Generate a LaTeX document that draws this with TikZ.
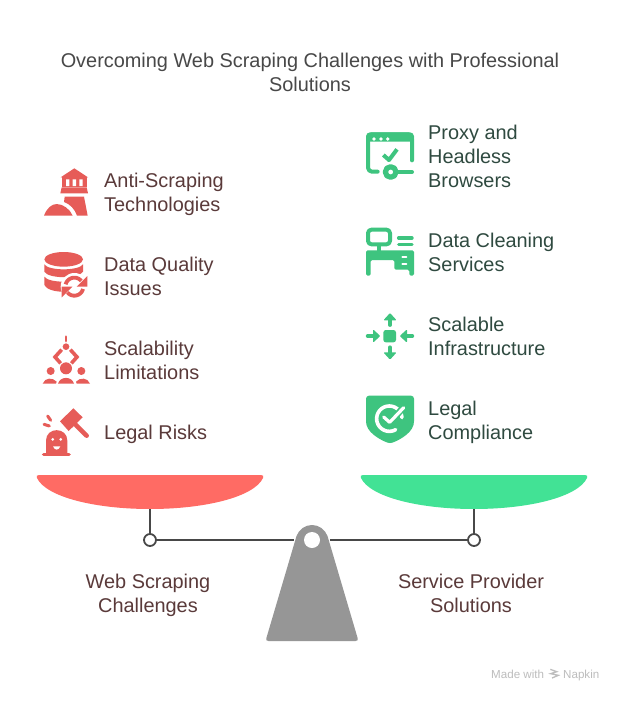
\documentclass[tikz,border=0pt]{standalone}
\usepackage{fontspec}
\setmainfont{Liberation Sans}
\definecolor{redpan}{HTML}{FF6B64}
\definecolor{greenpan}{HTML}{42E295}
\definecolor{redicon}{HTML}{E65C58}
\definecolor{greenicon}{HTML}{3EC47F}
\definecolor{lefttext}{HTML}{5A3A3A}
\definecolor{righttext}{HTML}{2F4A40}
\definecolor{titletext}{HTML}{484848}
\definecolor{beam}{HTML}{484848}
\definecolor{fulcrum}{HTML}{969696}
\definecolor{wmgray}{HTML}{BDBDBD}
\tikzset{
  struts/.style={execute at begin node=\strut,execute at end node=\strut},
  lbl/.style={font=\fontsize{19.9}{24}\selectfont,align=left,anchor=west,inner sep=0pt,struts},
  lefttxt/.style={lbl,text=lefttext},
  righttxt/.style={lbl,text=righttext},
  captxt/.style={font=\fontsize{19.9}{24}\selectfont,align=center,inner sep=0pt,text=lefttext,struts},
  pivot/.style={circle,draw=beam,fill=white,line width=1.8pt,minimum size=12pt,inner sep=0pt},
  beamline/.style={draw=beam,line width=2pt},
  riskicon/.style={shift={(#1)},scale=1/3,fill=redicon,draw=none},
  okicon/.style={shift={(#1)},scale=1/3,fill=greenicon,draw=none},
  rl/.style={draw=redicon,line width=#1,line cap=round,line join=round,fill=none},
  gl/.style={draw=greenicon,line width=#1,line cap=round,line join=round,fill=none},
  wmtxt/.style={font=\fontsize{11.6}{13}\selectfont,text=wmgray,inner sep=0pt,anchor=base west}
}
\begin{document}
\begin{tikzpicture}[x=1pt,y=-1pt]
\useasboundingbox[fill=white] (0,0) rectangle (624,701);
% title
\node[font=\fontsize{19.9}{24}\selectfont,align=center,text=titletext,inner sep=0pt,struts] (title) at (310,76.2)
  {Overcoming Web Scraping Challenges with Professional\\Solutions};
% labels
\node[lefttxt] (l1) at (104,196.2) {Anti-Scraping\\Technologies};
\node[lefttxt] (l2) at (104,280.2) {Data Quality\\Issues};
\node[lefttxt] (l3) at (104,364.2) {Scalability\\Limitations};
\node[lefttxt] (l4) at (104,434.2) {Legal Risks};
\node[righttxt] (r1) at (428,160.2) {Proxy and\\Headless\\Browsers};
\node[righttxt] (r2) at (428,256.2) {Data Cleaning\\Services};
\node[righttxt] (r3) at (428,340.2) {Scalable\\Infrastructure};
\node[righttxt] (r4) at (428,424.2) {Legal\\Compliance};
\node[captxt] (capl) at (148,597.2) {Web Scraping\\Challenges};
\node[captxt] (capr) at (471,597.2) {Service Provider\\Solutions};
% pans
\fill[redpan] (39,475) -- (261,475) .. controls (263,475) and (264,476) .. (263,478)
  .. controls (254,497) and (205,509) .. (150,509) .. controls (95,509) and (46,497) .. (37,478)
  .. controls (36,476) and (37,475) .. (39,475) -- cycle;
\fill[greenpan] (363,475) -- (585,475) .. controls (587,475) and (588,476) .. (587,478)
  .. controls (578,497) and (529,509) .. (474,509) .. controls (419,509) and (370,497) .. (361,478)
  .. controls (360,476) and (361,475) .. (363,475) -- cycle;
\coordinate (panL) at (150,509);
\coordinate (panR) at (474,509);
% beam
\node[pivot] (pl) at (150,540) {};
\node[pivot] (pr) at (474,540) {};
\draw[beamline] (panL) -- (pl);
\draw[beamline] (panR) -- (pr);
\draw[beamline] (pl) -- (pr);
% fulcrum
\path[fill=white] (294,520) rectangle (330,560);
\fill[fulcrum] (296.5,536) .. controls (299,529.5) and (305,525) .. (312,525)
  .. controls (319,525) and (325,529.5) .. (327.5,536) -- (357.6,638) .. controls (358.2,640) and (357.5,641) .. (355.5,641)
  -- (268.5,641) .. controls (266.5,641) and (265.8,640) .. (266.4,638) -- cycle;
\node[circle,fill=white,minimum size=16pt,inner sep=0pt] (hole) at (312,540) {};
% lighthouse
\begin{scope}[riskicon={30,160}]
  \fill[redicon] (133,25) -- (174,52) -- (92,52) -- cycle;
  \fill[redicon] (96,52) rectangle (170,82);
  \fill[white] (108,58) rectangle (118,78) (128,58) rectangle (138,78) (148,58) rectangle (158,78);
  \fill[redicon] (95,82) -- (170,82) -- (174,100) -- (91,100) -- cycle;
  \fill[redicon] (104,110) -- (162,110) -- (173,167) -- (141,167) .. controls (135,148) and (120,132) .. (102,126) -- cycle;
  \fill[redicon] (42,167) .. controls (50,145) and (65,132) .. (80,132) .. controls (100,132) and (120,148) .. (128,167) -- cycle;
\end{scope}
% database
\begin{scope}[riskicon={30,160}]
  \fill[redicon] (101,298) ellipse[x radius=58,y radius=22];
  \fill[redicon] (43,313) .. controls (55,333) and (147,333) .. (159,313) -- (159,335) .. controls (147,357) and (55,357) .. (43,335) -- cycle;
  \fill[redicon] (43,350) .. controls (55,370) and (147,370) .. (159,350) -- (159,375) .. controls (147,402) and (55,402) .. (43,375) -- cycle;
  \fill[white] (133,380) circle[radius=41];
  \draw[rl=3.8pt,line cap=butt] plot[domain=195:320,samples=20] ({133+27*cos(\x)},{380+27*sin(\x)});
  \draw[rl=3.8pt,line cap=butt] plot[domain=15:140,samples=20] ({133+27*cos(\x)},{380+27*sin(\x)});
  \fill[redicon] (172,348) -- (172,380) -- (140,380) -- cycle;
  \fill[redicon] (95,412) -- (95,380) -- (127,380) -- cycle;
\end{scope}
% scalability people
\begin{scope}[riskicon={30,330}]
  \draw[rl=2.7pt] (108,20) -- (108,33);
  \fill[redicon] (108,50) circle[radius=10];
  \draw[rl=3.6pt,line cap=butt,line join=miter] (95,59) -- (75,81) -- (92,100);
  \draw[rl=3.6pt,line cap=butt,line join=miter] (121,59) -- (141,81) -- (124,100);
  \fill[redicon] (108,115) circle[radius=18];
  \fill[redicon] (62,123) circle[radius=12];
  \fill[redicon] (154,123) circle[radius=12];
  \fill[redicon] (84,161) .. controls (90,138) and (126,138) .. (132,161) -- cycle;
  \fill[redicon] (38,161) .. controls (45,142) and (68,142) .. (80,155) -- (78,161) -- cycle;
  \fill[redicon] (180,161) .. controls (173,142) and (150,142) .. (138,155) -- (140,161) -- cycle;
\end{scope}
% legal risk
\begin{scope}[riskicon={30,330}]
  \fill[redicon] (48,372) -- (48,332) .. controls (48,290) and (112,290) .. (112,332) -- (112,372) -- cycle;
  \draw[rl=3.6pt] (41,373) -- (117,373);
  \fill[white] (68,328) circle[radius=4.5] (92,328) circle[radius=4.5];
  \fill[white] (69,349) .. controls (74,362) and (86,362) .. (91,349) -- cycle;
  \fill[redicon] (90,274) -- (130,235) -- (158,262) -- (116,303) -- cycle;
  \draw[rl=4.6pt] (138,285) -- (170,317);
  \draw[rl=3pt] (53,258) -- (62,271);
  \draw[rl=3pt] (42,283) -- (58,288);
\end{scope}
% browser
\begin{scope}[okicon={355,125}]
  \draw[gl=4pt,rounded corners=4pt] (68,140) -- (39,140) -- (39,28) -- (171,28) -- (171,106);
  \fill[greenicon,rounded corners=4pt] (33,22) rectangle (177,50);
  \fill[white] (57,42) circle[radius=5.5] (78,42) circle[radius=5.5] (98,42) circle[radius=5.5];
  \draw[gl=4pt,line cap=butt,line join=miter] (85,90) -- (102,105) -- (126,73);
  \fill[white] (107,141) circle[radius=31];
  \draw[gl=5.2pt] (107,141) circle[radius=16];
  \draw[gl=4pt] (125,141) -- (171,141);
\end{scope}
% desk
\begin{scope}[okicon={355,125}]
  \draw[gl=4pt,rounded corners=3.5pt] (39,314) rectangle (105,358);
  \draw[gl=3.6pt,line cap=butt] (72,358) -- (72,378);
  \draw[gl=3.4pt] (131,339) -- (171,339);
  \draw[gl=3.4pt] (131,358) -- (171,358);
  \fill[greenicon,rounded corners=1.5pt] (33,376) -- (177,376) -- (177,452) -- (163,452) -- (163,434) -- (118,434) -- (118,405) -- (47,405) -- (47,452) -- (33,452) -- cycle;
  \draw[white,line width=2pt,line cap=round] (142,395) -- (154,395);
  \draw[white,line width=2pt,line cap=round] (142,418) -- (154,418);
\end{scope}
% arrows
\begin{scope}[okicon={355,305}]
  \fill[greenicon,rounded corners=2.5pt] (85,75) rectangle (123,112);
  \fill[greenicon,rounded corners=1pt] (105,24) -- (125,46) -- (85,46) -- cycle;
  \draw[gl=3.8pt] (105,44) -- (105,60);
  \fill[greenicon,rounded corners=1pt] (105,164) -- (125,142) -- (85,142) -- cycle;
  \draw[gl=3.8pt] (105,144) -- (105,127);
  \fill[greenicon,rounded corners=1pt] (76,93) -- (54,73) -- (54,113) -- cycle;
  \draw[gl=3.8pt] (56,93) -- (38,93);
  \fill[greenicon,rounded corners=1pt] (134,93) -- (156,73) -- (156,113) -- cycle;
  \draw[gl=3.8pt] (154,93) -- (172,93);
\end{scope}
% shield
\begin{scope}[okicon={355,305}]
  \fill[greenicon,rounded corners=3pt] (33,272) -- (177,272) -- (177,300) -- (177,340)
     .. controls (177,380) and (140,402) .. (105,416) .. controls (70,402) and (33,380) .. (33,340) -- cycle;
  \draw[white,line width=3.6pt,line cap=round] plot[domain=-5:-300,samples=40] ({103+38*cos(\x)},{341+38*sin(\x)});
  \draw[greenicon,line width=6.5pt,line cap=butt,line join=miter] (85,336) -- (104,352) -- (150,303);
  \draw[white,line width=3.2pt,line cap=round,line join=round] (86,336) -- (104,352) -- (146,308);
\end{scope}
% watermark
\node[wmtxt] (made) at (491,678) {Made with};
\node[wmtxt] (napkin) at (563,678) {Napkin};
\begin{scope}[shift={(480,660)},scale=1/3]
  \draw[wmgray,line width=1.3pt,line join=miter] (211,28) -- (230,35) -- (212,41) -- (235,46) -- (216,54);
\end{scope}
\end{tikzpicture}
\end{document}
